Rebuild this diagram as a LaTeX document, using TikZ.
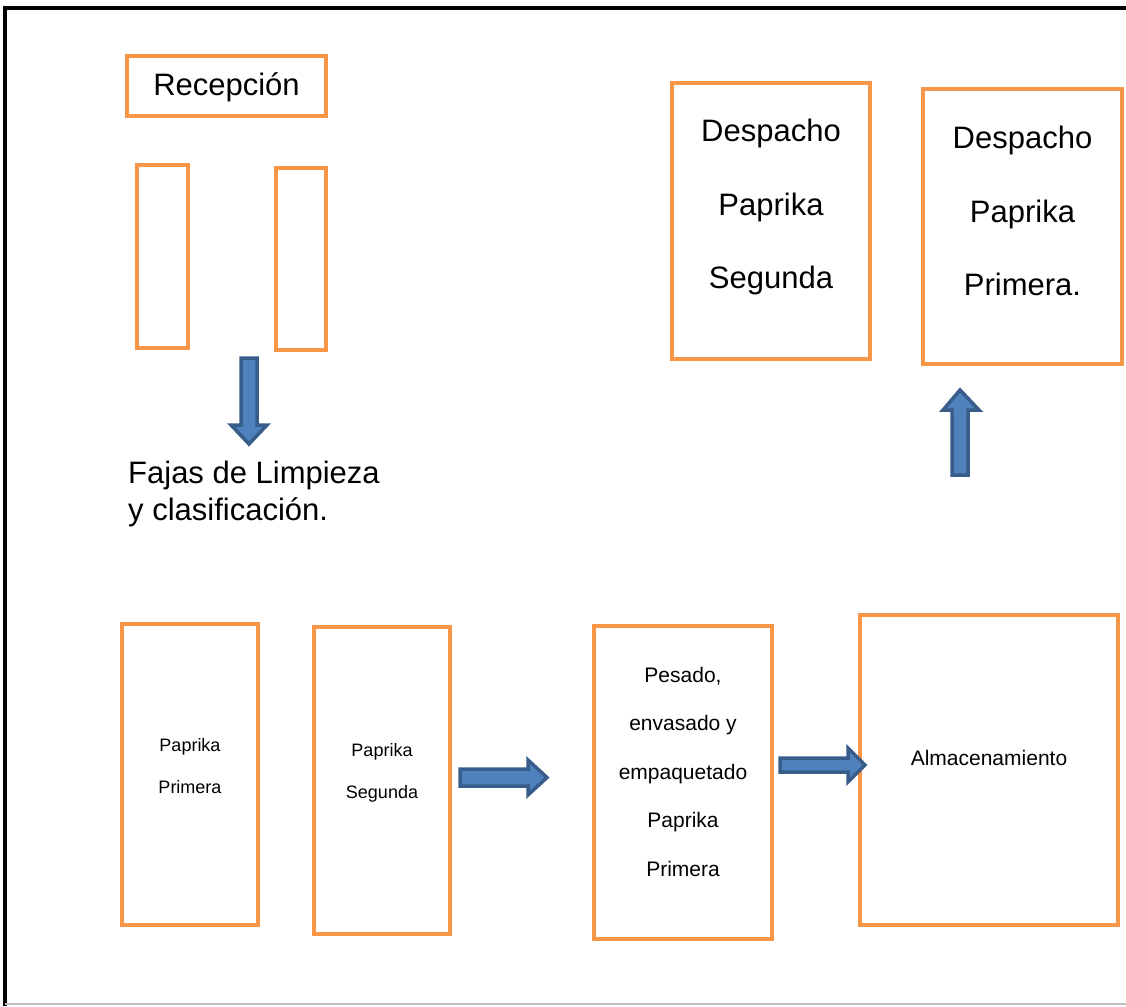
\documentclass[tikz,border=0pt]{standalone}
\usepackage{fontspec}
\setmainfont{Liberation Sans}
\definecolor{orng}{RGB}{247,150,70}
\definecolor{arrfill}{RGB}{79,129,189}
\definecolor{arrline}{RGB}{56,93,138}
\begin{document}
\begin{tikzpicture}[x=1pt,y=-1pt,
  obox/.style={draw=orng,line width=4pt,rectangle,inner sep=0pt,align=center},
  txt/.style={inner sep=0pt,align=center},
  barrow/.style={fill=arrfill,draw=arrline,line width=3.5pt,line join=miter},
  big/.style={font=\fontsize{31}{37}\selectfont},
  desp/.style={font=\fontsize{31}{73.5}\selectfont},
  small/.style={font=\fontsize{18}{42}\selectfont},
  med/.style={font=\fontsize{21}{48.5}\selectfont}]
\useasboundingbox (0,0) rectangle (1126,1006);
% frame
\draw[line width=4pt] (5,1006) -- (5,8) -- (1126,8);
\draw[gray!50,line width=1.5pt] (5,1004) -- (1126,1004);
% boxes
\node[obox,big,minimum width=199pt,minimum height=60pt] (rec) at (226.5,86) {};
\node[txt,big] (rect) at (226.5,87) {Recepción};
\node[obox,minimum width=51pt,minimum height=183pt] (r1) at (162.5,256.5) {};
\node[obox,minimum width=50pt,minimum height=182pt] (r2) at (301,259) {};
\node[obox,minimum width=198pt,minimum height=276pt] (ds) at (771,221) {};
\node[txt,desp] (dst) at (771,207) {Despacho\\Paprika\\Segunda};
\node[obox,minimum width=199pt,minimum height=275pt] (dp) at (1022.5,226.5) {};
\node[txt,desp] (dpt) at (1022.5,211) {Despacho\\Paprika\\Primera.};
\node[anchor=north west,big,align=left,inner sep=0pt] (fajas) at (128,461) {Fajas de Limpieza\\y clasificación.};
\node[obox,minimum width=136pt,minimum height=301pt] (pp) at (190,774.5) {};
\node[txt,small] (ppt) at (190,766.5) {Paprika\\Primera};
\node[obox,minimum width=136pt,minimum height=307pt] (ps) at (382,780.5) {};
\node[txt,small] (pst) at (382,772.5) {Paprika\\Segunda};
\node[obox,minimum width=178pt,minimum height=313pt] (pes) at (683,782.5) {};
\node[txt,med] (pest) at (683,771.5) {Pesado,\\envasado y\\empaquetado\\Paprika\\Primera};
\node[obox,minimum width=258pt,minimum height=310pt] (alm) at (989,770) {};
\node[txt,med] (almt) at (989,758) {Almacenamiento};
% block arrows
\draw[barrow] (241,358) -- (257,358) -- (257,425) -- (267,425) -- (249,444) -- (231,425) -- (241,425) -- cycle;
\draw[barrow] (952,475) -- (968,475) -- (968,410) -- (979,410) -- (960,390) -- (943,410) -- (952,410) -- cycle;
\draw[barrow] (460,769) -- (528,769) -- (528,760) -- (547,777.5) -- (528,795) -- (528,786) -- (460,786) -- cycle;
\draw[barrow] (780,758) -- (848,758) -- (848,748) -- (865,765) -- (848,782) -- (848,772) -- (780,772) -- cycle;
\end{tikzpicture}
\end{document}
